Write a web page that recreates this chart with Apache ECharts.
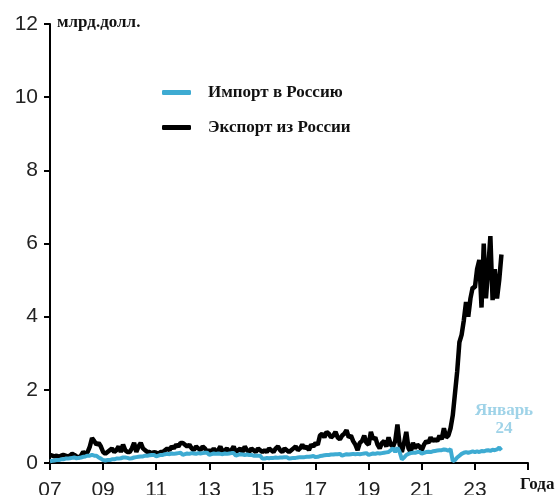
<!DOCTYPE html>
<html><head><meta charset="utf-8">
<script src="https://cdn.jsdelivr.net/npm/echarts@6/dist/echarts.min.js"></script>
<style>html,body{margin:0;padding:0;background:#fff;overflow:hidden}#c{width:560px;height:495px}</style>
</head><body><div id="c"></div>
<script>
const startYear = 2007;
const seriesNames = ['Импорт в Россию', 'Экспорт из России'];
const yTicks = [0, 2, 4, 6, 8, 10, 12];
const xTicks = ['07','09','11','13','15','17','19','21','23'];
// Monthly values, billion USD, Jan 2007 .. Jan 2024
const exportVals = [
 0.22,0.2,0.18,0.2,0.17,0.2,0.22,0.2,0.18,0.2,0.25,0.22,
 0.18,0.15,0.2,0.3,0.25,0.3,0.45,0.68,0.6,0.5,0.55,0.45,
 0.3,0.25,0.3,0.35,0.4,0.3,0.35,0.45,0.3,0.5,0.35,0.3,
 0.3,0.4,0.55,0.3,0.45,0.55,0.4,0.35,0.3,0.3,0.25,0.3,
 0.28,0.25,0.3,0.3,0.35,0.4,0.35,0.45,0.4,0.5,0.45,0.55,
 0.55,0.5,0.45,0.5,0.4,0.35,0.45,0.4,0.35,0.45,0.4,0.3,
 0.35,0.3,0.4,0.3,0.35,0.45,0.3,0.35,0.4,0.3,0.35,0.45,
 0.3,0.35,0.4,0.3,0.45,0.35,0.3,0.4,0.35,0.3,0.4,0.35,
 0.3,0.35,0.3,0.4,0.35,0.3,0.4,0.45,0.35,0.3,0.4,0.35,
 0.3,0.35,0.4,0.45,0.35,0.4,0.5,0.4,0.45,0.35,0.5,0.45,
 0.55,0.5,0.75,0.8,0.7,0.85,0.8,0.7,0.75,0.85,0.7,0.65,
 0.75,0.8,0.9,0.7,0.75,0.6,0.5,0.35,0.55,0.6,0.75,0.55,
 0.5,0.85,0.65,0.7,0.5,0.4,0.55,0.6,0.45,0.7,0.5,0.45,
 0.6,1.05,0.5,0.3,0.55,0.85,0.4,0.3,0.55,0.4,0.5,0.45,
 0.35,0.5,0.6,0.55,0.7,0.6,0.65,0.6,0.75,0.65,0.95,0.7,
 0.75,0.95,1.3,1.9,2.5,3.3,3.5,3.9,4.4,4.0,4.5,4.8,
 4.8,5.3,5.55,4.25,6.0,4.5,5.3,6.2,4.45,5.3,4.5,5.0,
 5.7
];
const importVals = [
 0.05,0.06,0.07,0.08,0.08,0.1,0.1,0.12,0.12,0.13,0.14,0.15,
 0.13,0.14,0.15,0.17,0.18,0.2,0.2,0.22,0.2,0.2,0.15,0.12,
 0.08,0.07,0.08,0.08,0.1,0.1,0.12,0.12,0.13,0.15,0.15,0.14,
 0.12,0.13,0.15,0.16,0.17,0.18,0.18,0.2,0.2,0.21,0.22,0.22,
 0.18,0.2,0.22,0.22,0.24,0.25,0.24,0.26,0.25,0.26,0.27,0.28,
 0.22,0.24,0.26,0.25,0.27,0.26,0.25,0.27,0.26,0.27,0.28,0.28,
 0.22,0.24,0.26,0.25,0.26,0.25,0.24,0.26,0.25,0.26,0.27,0.27,
 0.2,0.22,0.24,0.23,0.22,0.23,0.22,0.22,0.2,0.2,0.2,0.2,
 0.12,0.12,0.14,0.13,0.14,0.14,0.15,0.14,0.15,0.15,0.16,0.16,
 0.12,0.13,0.14,0.14,0.15,0.16,0.16,0.16,0.17,0.17,0.18,0.19,
 0.16,0.17,0.19,0.2,0.21,0.22,0.22,0.23,0.23,0.24,0.24,0.25,
 0.2,0.22,0.24,0.23,0.24,0.25,0.24,0.25,0.24,0.25,0.26,0.27,
 0.22,0.24,0.26,0.25,0.27,0.26,0.27,0.28,0.29,0.3,0.35,0.4,
 0.3,0.42,0.3,0.1,0.15,0.22,0.25,0.27,0.28,0.28,0.3,0.3,
 0.26,0.28,0.3,0.31,0.3,0.32,0.33,0.34,0.35,0.35,0.37,0.36,
 0.34,0.38,0.05,0.08,0.15,0.2,0.25,0.28,0.3,0.28,0.3,0.32,
 0.3,0.32,0.3,0.33,0.32,0.34,0.35,0.33,0.36,0.35,0.37,0.42,
 0.35
];
const toPairs = arr => arr.map((v, i) => [startYear + i / 12, v]);
const chart = echarts.init(document.getElementById('c'));
const serif = '"Liberation Serif", "DejaVu Serif", serif';
chart.setOption({
  animation: false,
  grid: {left: 50, right: 32, top: 24, bottom: 32, containLabel: false, outerBoundsMode: 'none'},
  legend: {
    orient: 'vertical', left: 157, top: 79, itemWidth: 29, itemHeight: 5, itemGap: 18,
    icon: 'roundRect',
    textStyle: {fontFamily: serif, fontWeight: 'bold', fontSize: 17, color: '#111', padding: [0, 0, 0, 12]},
    data: seriesNames
  },
  xAxis: {
    type: 'value', min: 2007, max: 2025, interval: 2,
    axisLine: {lineStyle: {color: '#000', width: 2}},
    axisTick: {length: 7, lineStyle: {color: '#000', width: 2}},
    splitLine: {show: false},
    axisLabel: {
      margin: 17, fontSize: 21, color: '#222', fontFamily: '"Liberation Sans", sans-serif',
      formatter: v => { const i = Math.round((v - 2007) / 2); return xTicks[i] || ''; }
    }
  },
  yAxis: {
    type: 'value', min: yTicks[0], max: yTicks[yTicks.length - 1], interval: 2,
    axisLine: {show: true, lineStyle: {color: '#000', width: 2}},
    axisTick: {show: true, length: 6, lineStyle: {color: '#000', width: 2}},
    splitLine: {show: false},
    axisLabel: {margin: 12, fontSize: 21, color: '#222', fontFamily: '"Liberation Sans", sans-serif'}
  },
  graphic: [
    {type: 'text', x: 57, y: 14, style: {text: 'млрд.долл.', font: 'bold 17px ' + serif, fill: '#111'}},
    {type: 'text', x: 520, y: 476, style: {text: 'Года', font: 'bold 17px ' + serif, fill: '#111'}},
    {type: 'text', x: 504, y: 402, style: {text: 'Январь\n24', font: 'bold 17px ' + serif, fill: '#9fd3e8', align: 'center', lineHeight: 18}}
  ],
  series: [
    {name: seriesNames[0], type: 'line', data: toPairs(importVals), showSymbol: false, z: 3,
     itemStyle: {color: '#3eabd2'}, lineStyle: {color: '#3eabd2', width: 4}},
    {name: seriesNames[1], type: 'line', data: toPairs(exportVals), showSymbol: false, z: 2,
     itemStyle: {color: '#000'}, lineStyle: {color: '#000', width: 4.5}}
  ]
});
</script></body></html>
